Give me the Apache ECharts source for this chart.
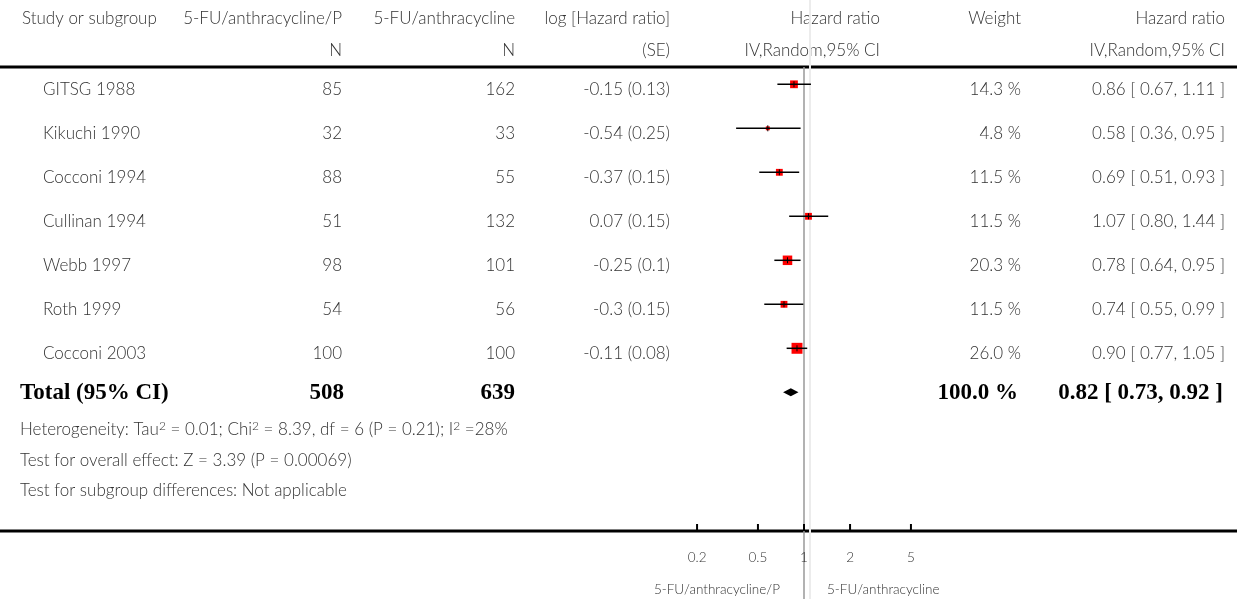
<!DOCTYPE html>
<html><head><meta charset="utf-8">
<script src="https://cdn.jsdelivr.net/npm/echarts@6/dist/echarts.min.js"></script>
<style>html,body{margin:0;padding:0;background:#fff}#c{width:1237px;height:599px}</style>
</head><body><div id="c"></div>
<script>
// ---------------- DATA ----------------
const headerLine1 = ['Study or subgroup', '5-FU/anthracycline/P', '5-FU/anthracycline', 'log [Hazard ratio]', 'Hazard ratio', 'Weight', 'Hazard ratio'];
const headerLine2 = ['', 'N', 'N', '(SE)', 'IV,Random,95% CI', '', 'IV,Random,95% CI'];
const studies = ['GITSG 1988', 'Kikuchi 1990', 'Cocconi 1994', 'Cullinan 1994', 'Webb 1997', 'Roth 1999', 'Cocconi 2003'];
const nExp = [85, 32, 88, 51, 98, 54, 100];
const nCtl = [162, 33, 55, 132, 101, 56, 100];
const logHR = [-0.15, -0.54, -0.37, 0.07, -0.25, -0.3, -0.11];
const seLogHR = [0.13, 0.25, 0.15, 0.15, 0.1, 0.15, 0.08];
const weights = [14.3, 4.8, 11.5, 11.5, 20.3, 11.5, 26.0];
const hr = [0.86, 0.58, 0.69, 1.07, 0.78, 0.74, 0.90];
const hrLow = [0.67, 0.36, 0.51, 0.80, 0.64, 0.55, 0.77];
const hrHigh = [1.11, 0.95, 0.93, 1.44, 0.95, 0.99, 1.05];
const totalLabel = 'Total (95% CI)';
const totalNExp = 508;
const totalNCtl = 639;
const totalWeight = 100.0;
const totalHR = 0.82;
const totalLow = 0.73;
const totalHigh = 0.92;
const heterogeneity = { tau2: '0.01', chi2: '8.39', df: 6, p: '0.21', i2: 28 };
const overallEffect = { z: '3.39', p: '0.00069' };
const subgroupText = 'Test for subgroup differences: Not applicable';
const tickValues = [0.2, 0.5, 1, 2, 5];
const tickLabels = ['0.2', '0.5', '1', '2', '5'];
const favoursLeft = '5-FU/anthracycline/P';
const favoursRight = '5-FU/anthracycline';

// ---------------- LAYOUT / STYLE ----------------
const FONT = 'Lato, "Open Sans", sans-serif';
const BODY_FONT = '300 17px ' + FONT;
const AXIS_FONT = '300 13.5px ' + FONT;
const BOLD_FONT = 'bold 23px "Liberation Serif", "DejaVu Serif", serif';
const TXT = '#333';
const COL_HDR_LEFT = 22, COL_STUDY = 43, COL_NOTE_LEFT = 20;
const COL_RIGHT = [null, 342, 515, 670, 880, 1021, 1225];
const TEXT_DY = 5;
const TOP_LINE_Y = 67, AXIS_Y = 531;
const nf = v => String(v);
const boxSize = w => Math.max(2.5, 2.4 * Math.sqrt(w) - 1.3);

function txt(text, x, y, align, opts) {
  opts = opts || {};
  return { type: 'text', silent: true, style: {
    text: text, x: x, y: y, textAlign: align, textVerticalAlign: 'middle',
    font: opts.font || BODY_FONT, fill: opts.fill || TXT
  }};
}

const chart = echarts.init(document.getElementById('c'));

const tableRows = studies.map((s, i) => [1, i]);
tableRows.push([1, studies.length]);

const hetText = 'Heterogeneity: Tau{s|2} = ' + heterogeneity.tau2 + '; Chi{s|2} = ' + heterogeneity.chi2 + ', df = ' + heterogeneity.df +
  ' (P = ' + heterogeneity.p + '); I{s|2} =' + heterogeneity.i2 + '%';

const option = {
  animation: false,
  backgroundColor: '#fff',
  grid: { left: 498, width: 612, top: 40.3, height: 484 },
  xAxis: { type: 'log', logBase: 10, min: 0.01, max: 100, show: false },
  yAxis: { type: 'value', inverse: true, min: -1, max: 10, show: false },
  graphic: [
    { type: 'line', shape: { x1: 0, y1: TOP_LINE_Y, x2: 1237, y2: TOP_LINE_Y }, style: { stroke: '#000', lineWidth: 3 } },
    { type: 'line', shape: { x1: 0, y1: AXIS_Y, x2: 1237, y2: AXIS_Y }, style: { stroke: '#000', lineWidth: 3 } },
    txt(headerLine1[0], COL_HDR_LEFT, 19, 'left'),
    ...headerLine1.slice(1).map((h, k) => txt(h, COL_RIGHT[k + 1], 19, 'right')),
    ...headerLine2.slice(1).map((h, k) => txt(h, COL_RIGHT[k + 1], 51, 'right')),
    { type: 'text', silent: true, style: {
        text: hetText, x: COL_NOTE_LEFT, y: 430, textAlign: 'left', textVerticalAlign: 'middle',
        fontFamily: FONT, fontWeight: 300, fontSize: 17, fill: TXT,
        rich: { s: { fontFamily: FONT, fontWeight: 300, fontSize: 12, fill: TXT, verticalAlign: 'top', lineHeight: 20 } }
    } },
    txt('Test for overall effect: Z = ' + overallEffect.z + ' (P = ' + overallEffect.p + ')', COL_NOTE_LEFT, 461, 'left'),
    txt(subgroupText, COL_NOTE_LEFT, 491, 'left')
  ],
  series: [
    { // reference lines at HR = 1
      type: 'custom', clip: false, silent: true, z: 1,
      data: [[1, 0]],
      renderItem: (params, api) => {
        const x = api.coord([api.value(0), 0])[0];
        return { type: 'group', children: [
          { type: 'line', shape: { x1: x + 6, y1: 0, x2: x + 6, y2: 599 }, style: { stroke: '#ececec', lineWidth: 2 } },
          { type: 'line', shape: { x1: x, y1: TOP_LINE_Y, x2: x, y2: 599 }, style: { stroke: '#999', lineWidth: 1.5 } }
        ]};
      }
    },
    { // study estimates
      type: 'custom', clip: false, silent: true, z: 3,
      data: studies.map((s, i) => [hrLow[i], hrHigh[i], hr[i], i, weights[i]]),
      encode: { x: [0, 1, 2], y: 3 },
      renderItem: (params, api) => {
        const row = api.value(3);
        const pl = api.coord([api.value(0), row]);
        const ph = api.coord([api.value(1), row]);
        const pc = api.coord([api.value(2), row]);
        const s = boxSize(api.value(4));
        return { type: 'group', children: [
          { type: 'rect', shape: { x: pc[0] - s / 2, y: pc[1] - s / 2, width: s, height: s }, style: { fill: '#f00' } },
          { type: 'line', shape: { x1: pl[0], y1: pl[1], x2: ph[0], y2: ph[1] }, style: { stroke: '#000', lineWidth: 1.5 } },
          { type: 'line', shape: { x1: pc[0], y1: pc[1] - 3, x2: pc[0], y2: pc[1] + 3 }, style: { stroke: '#000', lineWidth: 1 } }
        ]};
      }
    },
    { // pooled diamond
      type: 'custom', clip: false, silent: true, z: 3,
      data: [[totalLow, totalHigh, totalHR, studies.length]],
      encode: { x: [0, 1, 2], y: 3 },
      renderItem: (params, api) => {
        const row = api.value(3);
        const pl = api.coord([api.value(0), row]);
        const ph = api.coord([api.value(1), row]);
        const pc = api.coord([api.value(2), row]);
        const h = 4;
        return { type: 'polygon', shape: { points: [[pl[0], pl[1]], [pc[0], pc[1] - h], [ph[0], ph[1]], [pc[0], pc[1] + h]] }, style: { fill: '#000' } };
      }
    },
    { // axis ticks and labels
      type: 'custom', clip: false, silent: true, z: 2,
      data: tickValues.map((v, i) => [v, 0, i]),
      renderItem: (params, api) => {
        const x = api.coord([api.value(0), 0])[0];
        const i = api.value(2);
        return { type: 'group', children: [
          { type: 'line', shape: { x1: x, y1: AXIS_Y - 7, x2: x, y2: AXIS_Y }, style: { stroke: '#000', lineWidth: 2 } },
          txt(tickLabels[i], x, 558, 'center', { font: AXIS_FONT })
        ]};
      }
    },
    { // favours labels
      type: 'custom', clip: false, silent: true, z: 2,
      data: [[1, 0]],
      renderItem: (params, api) => {
        const x = api.coord([api.value(0), 0])[0];
        return { type: 'group', children: [
          txt(favoursLeft, x - 24, 590, 'right', { font: AXIS_FONT }),
          txt(favoursRight, x + 23, 590, 'left', { font: AXIS_FONT })
        ]};
      }
    },
    { // table text rows
      type: 'custom', clip: false, silent: true, z: 4,
      data: tableRows,
      encode: { x: 0, y: 1 },
      renderItem: (params, api) => {
        const i = params.dataIndex;
        const y = api.coord([1, api.value(1)])[1] + TEXT_DY;
        if (i < studies.length) {
          return { type: 'group', children: [
            txt(studies[i], COL_STUDY, y, 'left'),
            txt(nf(nExp[i]), COL_RIGHT[1], y, 'right'),
            txt(nf(nCtl[i]), COL_RIGHT[2], y, 'right'),
            txt(nf(logHR[i]) + ' (' + nf(seLogHR[i]) + ')', COL_RIGHT[3], y, 'right'),
            txt(weights[i].toFixed(1) + ' %', COL_RIGHT[5], y, 'right'),
            txt(hr[i].toFixed(2) + ' [ ' + hrLow[i].toFixed(2) + ', ' + hrHigh[i].toFixed(2) + ' ]', COL_RIGHT[6], y, 'right')
          ]};
        }
        const o = { font: BOLD_FONT, fill: '#000' };
        const yt = y - 4;
        return { type: 'group', children: [
          txt(totalLabel, COL_NOTE_LEFT, yt, 'left', o),
          txt(nf(totalNExp), COL_RIGHT[1] + 2, yt, 'right', o),
          txt(nf(totalNCtl), COL_RIGHT[2], yt, 'right', o),
          txt(totalWeight.toFixed(1) + ' %', COL_RIGHT[5] - 3, yt, 'right', o),
          txt(totalHR.toFixed(2) + ' [ ' + totalLow.toFixed(2) + ', ' + totalHigh.toFixed(2) + ' ]', COL_RIGHT[6] - 2, yt, 'right', o)
        ]};
      }
    }
  ]
};
chart.setOption(option);
</script>
</body></html>
